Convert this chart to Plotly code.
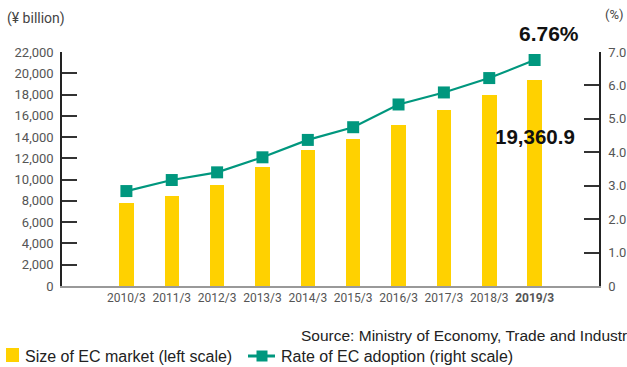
import plotly.graph_objects as go

categories = ["2010/3", "2011/3", "2012/3", "2013/3", "2014/3", "2015/3", "2016/3", "2017/3", "2018/3", "2019/3"]
tick_labels = ["2010/3", "2011/3", "2012/3", "2013/3", "2014/3", "2015/3", "2016/3", "2017/3", "2018/3", "<b>2019/3</b>"]
market_size = [7788, 8459, 9513, 11166, 12797, 13775, 15111, 16505, 17984, 19360.9]
adoption_rate = [2.84, 3.17, 3.40, 3.85, 4.37, 4.75, 5.43, 5.79, 6.22, 6.76]
left_ticks = list(range(0, 22001, 2000))
right_ticks = [0, 1, 2, 3, 4, 5, 6, 7]
right_tick_text = ["0"] + [f"{v:.1f}" for v in right_ticks[1:]]
bar_name = "Size of EC market (left scale)"
line_name = "Rate of EC adoption (right scale)"
source_text = "Source: Ministry of Economy, Trade and Industry"

BAR = "#ffd100"
LINE = "#00977e"
TICKFONT = dict(family="Roboto, DejaVu Sans", size=13, color="#555555")
TEXTFONT = "Liberation Sans, Arial"

# plot area in pixels (for placing free text / legend)
W, H = 627, 367
L, R, T, B = 62, 599, 52, 286
def px(xp): return (xp - L) / (R - L)
def py(yp): return (B - yp) / (B - T)

x = list(range(len(categories)))

fig = go.Figure()
fig.add_trace(go.Bar(
    x=x, y=market_size, name=bar_name,
    marker=dict(color=BAR, line=dict(width=0)), width=0.32, yaxis="y",
))
fig.add_trace(go.Scatter(
    x=x, y=adoption_rate, name=line_name,
    mode="lines+markers", yaxis="y2",
    line=dict(color=LINE, width=2.2),
    marker=dict(symbol="square", size=12, color=LINE),
))

shapes = [
    # legend: yellow square
    dict(type="rect", xref="paper", yref="paper", x0=px(6), x1=px(19), y0=py(362), y1=py(348),
         fillcolor=BAR, line=dict(width=0)),
    # legend: teal line + square marker
    dict(type="line", xref="paper", yref="paper", x0=px(248), x1=px(275), y0=py(356), y1=py(356),
         line=dict(color=LINE, width=3)),
    dict(type="rect", xref="paper", yref="paper", x0=px(256.5), x1=px(267.5), y0=py(361.5), y1=py(350.5),
         fillcolor=LINE, line=dict(width=0)),
]

fig.update_layout(
    width=W, height=H,
    margin=dict(l=L, r=W - R, t=T, b=H - B, autoexpand=False),
    paper_bgcolor="white", plot_bgcolor="white",
    font=dict(family=TEXTFONT, color="#222"),
    bargap=0,
    showlegend=False,
    xaxis=dict(
        range=[-1.42, 10.42], tickmode="array", tickvals=x, ticktext=tick_labels,
        showgrid=False, zeroline=False, showline=True, linecolor="#999999", linewidth=1.5,
        ticks="", tickfont=dict(family="Roboto, DejaVu Sans", size=12, color="#555555"),
        automargin=False,
    ),
    yaxis=dict(
        range=[0, 22000], tickmode="array", tickvals=left_ticks,
        ticktext=[f"{v:,}" for v in left_ticks],
        showgrid=False, zeroline=False, showline=True, linecolor="#222", linewidth=1.5,
        ticks="inside", ticklen=15, tickcolor="#333", tickwidth=1.5, tickfont=TICKFONT,
        ticklabelstandoff=4, automargin=False,
    ),
    yaxis2=dict(
        range=[0, 7], overlaying="y", side="right", tickmode="array",
        tickvals=right_ticks, ticktext=right_tick_text,
        showgrid=False, zeroline=False, showline=True, linecolor="#222", linewidth=1.5,
        ticks="inside", ticklen=15, tickcolor="#333", tickwidth=1.5, tickfont=TICKFONT,
        ticklabelstandoff=5, automargin=False,
    ),
    shapes=shapes,
    annotations=[
        dict(text="(¥ billion)", xref="paper", yref="paper", x=px(5), y=py(18),
             xanchor="left", yanchor="middle", showarrow=False,
             font=dict(family="Roboto, DejaVu Sans", size=14, color="#444")),
        dict(text="(%)", xref="paper", yref="paper", x=px(603), y=py(15),
             xanchor="left", yanchor="middle", showarrow=False,
             font=dict(family="Roboto, DejaVu Sans", size=13, color="#444")),
        dict(text="<b>6.76%</b>", xref="x", yref="y2", x=x[-1], y=adoption_rate[-1],
             xshift=14, yshift=27, xanchor="center", yanchor="middle", showarrow=False,
             font=dict(size=21, color="#111")),
        dict(text="<b>19,360.9</b>", xref="x", yref="y", x=x[-1], y=14100,
             xanchor="center", yanchor="middle", showarrow=False,
             font=dict(size=20.5, color="#111")),
        dict(text=source_text, xref="paper", yref="paper",
             x=px(299), y=py(335), xanchor="left", yanchor="middle", showarrow=False,
             font=dict(size=15.5, color="#222")),
        dict(text=bar_name, xref="paper", yref="paper",
             x=px(23), y=py(356), xanchor="left", yanchor="middle", showarrow=False,
             font=dict(size=16, color="#222")),
        dict(text=line_name, xref="paper", yref="paper",
             x=px(279), y=py(356), xanchor="left", yanchor="middle", showarrow=False,
             font=dict(size=16, color="#222")),
    ],
)

fig.write_html("out.html")
